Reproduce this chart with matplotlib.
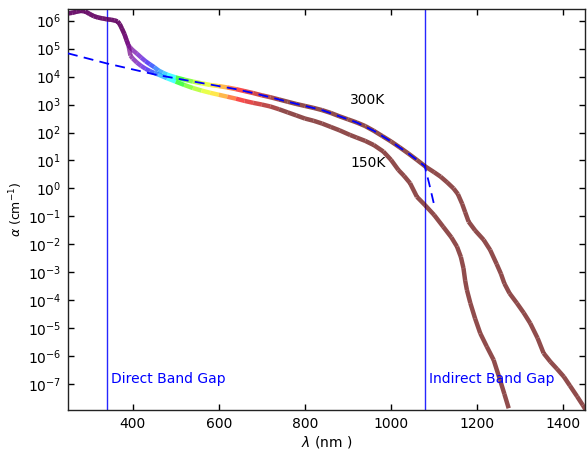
import numpy as np
import matplotlib
matplotlib.use("Agg")
import matplotlib.pyplot as plt
from matplotlib.collections import LineCollection
from matplotlib.ticker import NullLocator

# shared UV part of both curves (nm, log10 alpha)
lam_uv = [250, 260, 270, 280, 290, 300, 310, 320, 330, 340, 350, 358, 365, 370, 375, 381, 386]
log_uv = [6.26, 6.28, 6.32, 6.35, 6.33, 6.24, 6.16, 6.11, 6.08, 6.05, 6.03, 6.01, 5.97, 5.88, 5.72, 5.52, 5.30]

# 300K curve after the split
lam_300 = [390, 395, 400, 410, 420, 430, 440, 450, 460, 470, 480, 500, 520, 540, 560, 580, 600,
           620, 640, 660, 680, 700, 720, 740, 760, 780, 800, 820, 840, 860, 880, 900, 920, 940,
           960, 980, 1000, 1020, 1040, 1060, 1080, 1100, 1115, 1130, 1145, 1155, 1165, 1172, 1180,
           1195, 1215, 1230, 1245, 1255, 1263, 1275, 1292, 1308, 1323, 1340, 1354, 1370, 1385,
           1401, 1415, 1432, 1445, 1452]
log_300 = [5.12, 5.03, 4.95, 4.82, 4.68, 4.55, 4.44, 4.34, 4.22, 4.14, 4.07, 3.97, 3.89, 3.82,
           3.76, 3.70, 3.66, 3.61, 3.55, 3.48, 3.41, 3.33, 3.26, 3.18, 3.10, 3.02, 2.95, 2.88,
           2.80, 2.70, 2.58, 2.47, 2.36, 2.23, 2.06, 1.87, 1.68, 1.47, 1.25, 1.02, 0.78, 0.58,
           0.42, 0.22, 0.00, -0.20, -0.55, -0.85, -1.19, -1.50, -1.84, -2.20, -2.70, -3.05,
           -3.40, -3.75, -4.10, -4.45, -4.82, -5.35, -5.89, -6.20, -6.45, -6.73, -7.05, -7.44,
           -7.75, -7.92]

# 150K curve after the split
lam_150 = [390, 395, 400, 410, 420, 430, 440, 450, 460, 480, 500, 520, 540, 560, 580, 600, 620,
           640, 660, 680, 700, 720, 740, 760, 780, 800, 820, 840, 860, 880, 905, 920, 940, 960,
           982, 1000, 1017, 1030, 1044, 1060, 1079, 1100, 1121, 1140, 1153, 1162, 1168, 1172,
           1176, 1184, 1195, 1207, 1222, 1238, 1253, 1263, 1273]
log_150 = [5.15, 4.75, 4.65, 4.50, 4.38, 4.28, 4.20, 4.13, 4.07, 3.94, 3.82, 3.70, 3.59, 3.50,
           3.42, 3.35, 3.28, 3.21, 3.13, 3.06, 3.00, 2.93, 2.83, 2.72, 2.61, 2.50, 2.42, 2.32,
           2.20, 2.08, 1.91, 1.82, 1.70, 1.55, 1.32, 1.02, 0.66, 0.45, 0.19, -0.30, -0.60,
           -0.95, -1.37, -1.75, -2.08, -2.45, -2.85, -3.30, -3.63, -4.10, -4.65, -5.18, -5.65,
           -6.13, -6.85, -7.35, -7.86]

# dashed model curve
lam_fit = [250, 340, 450, 520, 560, 600, 640, 680, 720, 760, 800, 840, 880, 920, 960, 1000,
           1040, 1060, 1078, 1088, 1100]
log_fit = [4.83, 4.47, 4.08, 3.88, 3.77, 3.66, 3.55, 3.41, 3.26, 3.10, 2.95, 2.80, 2.58, 2.36,
           2.06, 1.68, 1.25, 1.02, 0.80, 0.20, -0.59]

direct_gap = 340
indirect_gap = 1078

x_ticks = [400, 600, 800, 1000, 1200, 1400]
y_decades = list(range(-7, 7))


def wavelength_to_rgb(wl, gamma=0.8):
    wl = min(max(wl, 380.), 750.)
    if wl <= 440:
        att = 0.3 + 0.7 * (wl - 380) / 60.
        r = ((440 - wl) / 60. * att) ** gamma
        g = 0.0
        b = att ** gamma
    elif wl <= 490:
        r, g, b = 0.0, ((wl - 440) / 50.) ** gamma, 1.0
    elif wl <= 510:
        r, g, b = 0.0, 1.0, ((510 - wl) / 20.) ** gamma
    elif wl <= 580:
        r, g, b = ((wl - 510) / 70.) ** gamma, 1.0, 0.0
    elif wl <= 645:
        r, g, b = 1.0, ((645 - wl) / 65.) ** gamma, 0.0
    else:
        att = 0.3 + 0.7 * (750 - wl) / 105.
        r, g, b = att ** gamma, 0.0, 0.0
    return (r, g, b)


def rainbow_line(ax, lam, loga):
    lam = np.asarray(lam, float)
    y = 10 ** np.asarray(loga, float)
    pts = np.column_stack([lam, y]).reshape(-1, 1, 2)
    segs = np.concatenate([pts[:-1], pts[1:]], axis=1)
    mids = 0.5 * (lam[:-1] + lam[1:])
    cols = [wavelength_to_rgb(m) for m in mids]
    lc = LineCollection(segs, colors=cols, linewidths=3.2, alpha=0.7,
                        capstyle='butt', joinstyle='round', zorder=2)
    ax.add_collection(lc)


plt.rcParams['font.family'] = 'DejaVu Sans'
plt.rcParams['font.size'] = 10
plt.rcParams['mathtext.fontset'] = 'dejavusans'

fig = plt.figure(figsize=(5.87, 4.49), dpi=100)
ax = fig.add_axes([0.1158, 0.0869, 0.8807, 0.893])

rainbow_line(ax, lam_uv + lam_300, log_uv + log_300)
rainbow_line(ax, lam_uv + lam_150, log_uv + log_150)

ax.plot(lam_fit, 10 ** np.array(log_fit), 'b--', lw=1.3, dashes=(5.5, 3.5), zorder=3)

ax.axvline(direct_gap, color='b', lw=1.0, alpha=0.85, zorder=1)
ax.axvline(indirect_gap, color='b', lw=1.0, alpha=0.85, zorder=1)

ax.text(905, 10 ** 3.16, '300K', va='center', ha='left', fontsize=10)
ax.text(905, 10 ** 0.91, '150K', va='center', ha='left', fontsize=10)
ax.text(350, 10 ** -6.82, 'Direct Band Gap', color='b', va='center', ha='left', fontsize=10)
ax.text(1089, 10 ** -6.82, 'Indirect Band Gap', color='b', va='center', ha='left', fontsize=10)

ax.set_yscale('log')
ax.set_xlim(250, 1450)
ax.set_ylim(1.2e-8, 2.6e6)
ax.set_xticks(x_ticks)
ax.set_yticks([10.0 ** k for k in y_decades])
ax.yaxis.set_minor_locator(NullLocator())
ax.tick_params(direction='in', top=True, right=True, length=4, width=1, pad=5)

ax.set_xlabel(r'$\lambda$ (nm )', labelpad=2)
ax.set_ylabel(r'$\alpha$ (cm$^{-1}$)', fontsize=9, labelpad=2)

for sp in ax.spines.values():
    sp.set_linewidth(1.0)
    sp.set_color('#222222')

fig.savefig('out.png', dpi=100)
